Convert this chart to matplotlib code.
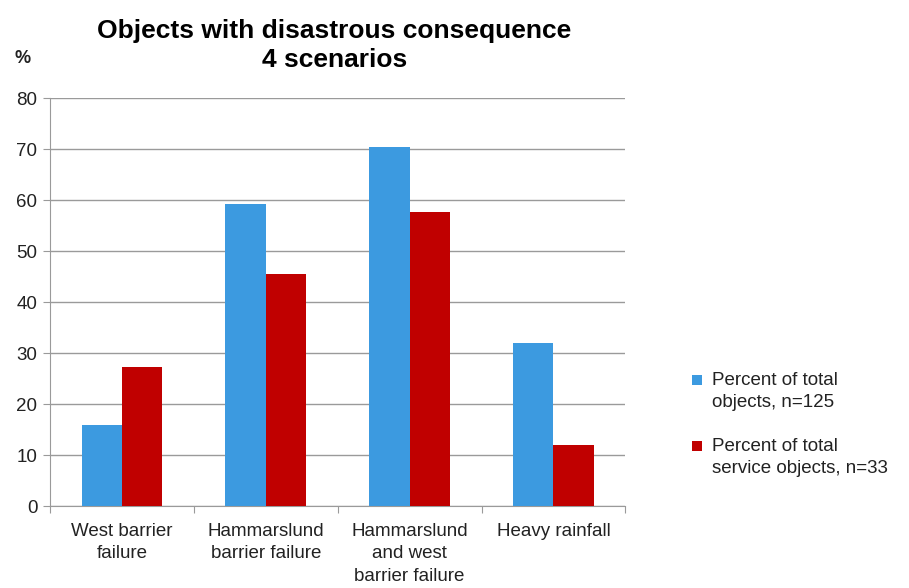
import matplotlib.pyplot as plt
import numpy as np
from matplotlib.patches import Rectangle

plt.rcParams['font.family'] = ['Liberation Sans', 'DejaVu Sans']

# scenario data, percent
scenarios = ['West barrier\nfailure', 'Hammarslund\nbarrier failure',
             'Hammarslund\nand west\nbarrier failure', 'Heavy rainfall']
pct_total = [16.0, 59.2, 70.4, 32.0]       # n=125
pct_service = [27.3, 45.5, 57.6, 12.1]     # n=33
series_names = ['Percent of total\nobjects, n=125',
                'Percent of total\nservice objects, n=33']

blue = '#3c9ae0'
red = '#c00000'
grid_c = '#9a9a9a'
txt_c = '#222222'

fig = plt.figure(figsize=(9.09, 5.88), dpi=100)
ax = fig.add_axes([0.055, 0.139, 0.633, 0.694])

x = np.arange(len(scenarios))
w = 0.28
ax.bar(x - w / 2, pct_total, w, color=blue, zorder=3)
ax.bar(x + w / 2, pct_service, w, color=red, zorder=3)

ax.set_xlim(-0.5, len(scenarios) - 0.5)
ax.set_ylim(0, 80)
ax.set_yticks(range(0, 81, 10))
ax.yaxis.grid(True, color=grid_c, lw=1, zorder=0)

for s in ['top', 'right']:
    ax.spines[s].set_visible(False)
for s in ['left', 'bottom']:
    ax.spines[s].set_color(grid_c)

# category labels between boundary ticks
ax.set_xticks(np.arange(-0.5, len(scenarios), 1.0))
ax.set_xticklabels([])
ax.set_xticks(x, minor=True)
ax.set_xticklabels(scenarios, minor=True, fontsize=13.5, color=txt_c,
                   linespacing=1.42, va='top')
ax.tick_params(axis='x', which='major', length=5, color=grid_c, direction='out')
ax.tick_params(axis='x', which='minor', length=0, pad=12)
ax.tick_params(axis='y', length=5, color=grid_c, labelsize=13.5,
               labelcolor=txt_c, pad=4)

fig.text(0.368, 0.968, 'Objects with disastrous consequence\n4 scenarios',
         ha='center', va='top', fontsize=19, fontweight='bold',
         linespacing=1.25)
fig.text(0.025, 0.9, '%', ha='center', va='center', fontsize=13,
         fontweight='bold', color=txt_c)

# legend: square key next to the first line of each entry
W, H = fig.get_size_inches() * fig.dpi
for i, (name, c) in enumerate(zip(series_names, [blue, red])):
    ytop = 372 + i * 66
    fig.add_artist(Rectangle((692 / W, 1 - (ytop + 13) / H), 10 / W, 10 / H,
                             transform=fig.transFigure, facecolor=c,
                             edgecolor='none'))
    fig.text(712 / W, 1 - ytop / H, name, ha='left', va='top',
             fontsize=13.5, color=txt_c, linespacing=1.4)

fig.savefig('out.png', dpi=100)
